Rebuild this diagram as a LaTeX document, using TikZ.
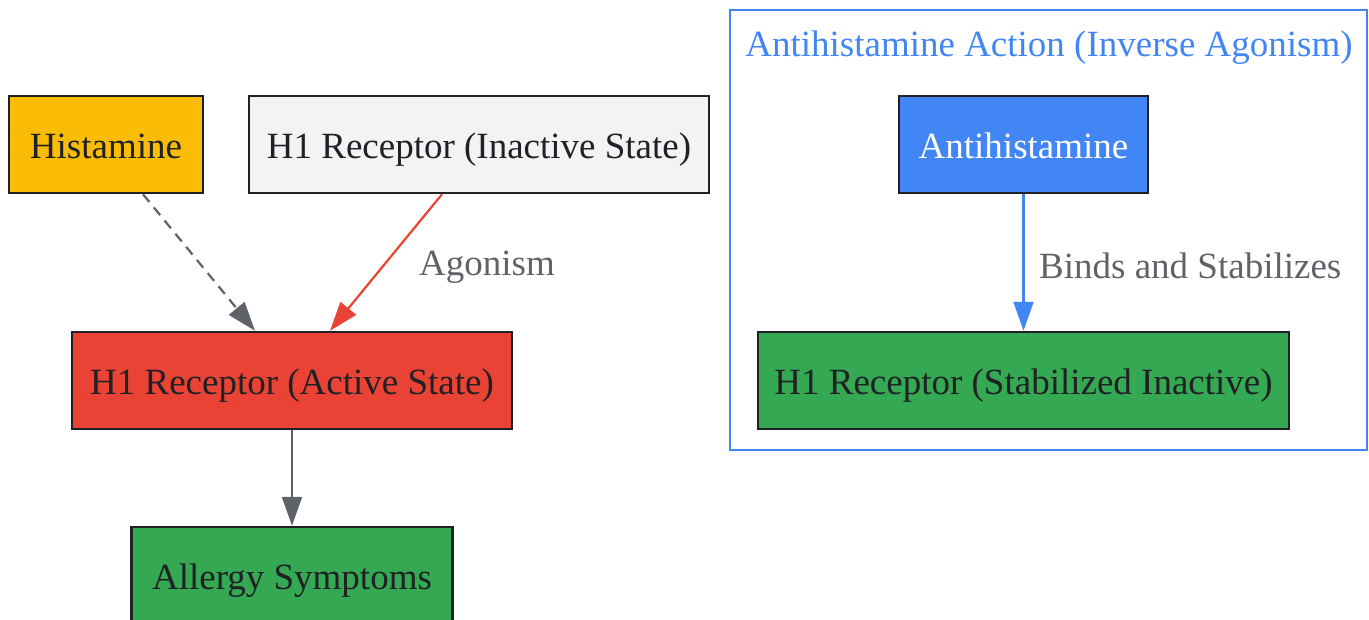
\documentclass[tikz,border=0pt]{standalone}
\usepackage{fontspec}
\setmainfont{Liberation Serif}
\usetikzlibrary{arrows.meta,calc}
\definecolor{gyellow}{HTML}{FBBC05}
\definecolor{glight}{HTML}{F1F3F4}
\definecolor{gred}{HTML}{EA4335}
\definecolor{ggreen}{HTML}{34A853}
\definecolor{gblue}{HTML}{4285F4}
\definecolor{ggray}{HTML}{5F6368}
\definecolor{gdark}{HTML}{202124}
\begin{document}
\begin{tikzpicture}[x=1pt,y=-1pt,
  every node/.style={font=\fontsize{37}{44}\selectfont},
  box/.style={draw=gdark,line width=2.5pt,rectangle,inner sep=0pt,minimum height=97pt,text height=36pt,text depth=9pt,text=gdark},
  conn/.style={line width=2.2pt,-{Triangle[length=29pt,width=20pt]}},
  lbl/.style={text=ggray,inner sep=0pt}]
\useasboundingbox (0,0) rectangle (1369,619);
% cluster
\draw[gblue,line width=2pt] (730,10) rectangle (1367,450);
\node[text=gblue,inner sep=0pt] (ctitle) at (1049,48) {Antihistamine Action (Inverse Agonism)};
% nodes
\node[box,fill=gyellow,minimum width=194pt] (hist) at (106,144.5) {Histamine};
\node[box,fill=glight,minimum width=460pt] (inact) at (479,144.5) {H1 Receptor (Inactive State)};
\node[box,fill=gred,minimum width=440pt] (act) at (292,380.5) {H1 Receptor (Active State)};
\node[box,fill=ggreen,minimum width=321pt] (allergy) at (292,575.5) {Allergy Symptoms};
\node[box,fill=gblue,minimum width=249pt,text=white] (anti) at (1023.5,144.5) {Antihistamine};
\node[box,fill=ggreen,minimum width=531pt] (stab) at (1023.5,380.5) {H1 Receptor (Stabilized Inactive)};
% edges
\draw[conn,ggray,dashed,dash pattern=on 10pt off 7pt] ([xshift=37pt]hist.south) -- ([xshift=-37pt]act.north);
\draw[conn,gred] ([xshift=-37pt]inact.south) -- ([xshift=38pt]act.north);
\node[lbl] (lagon) at (487,267) {Agonism};
\draw[conn,ggray] (act.south) -- (allergy.north);
\draw[conn,gblue] (anti.south) -- (stab.north);
\node[lbl,anchor=west] (lbinds) at (1039,266) {Binds and Stabilizes};
\end{tikzpicture}
\end{document}
